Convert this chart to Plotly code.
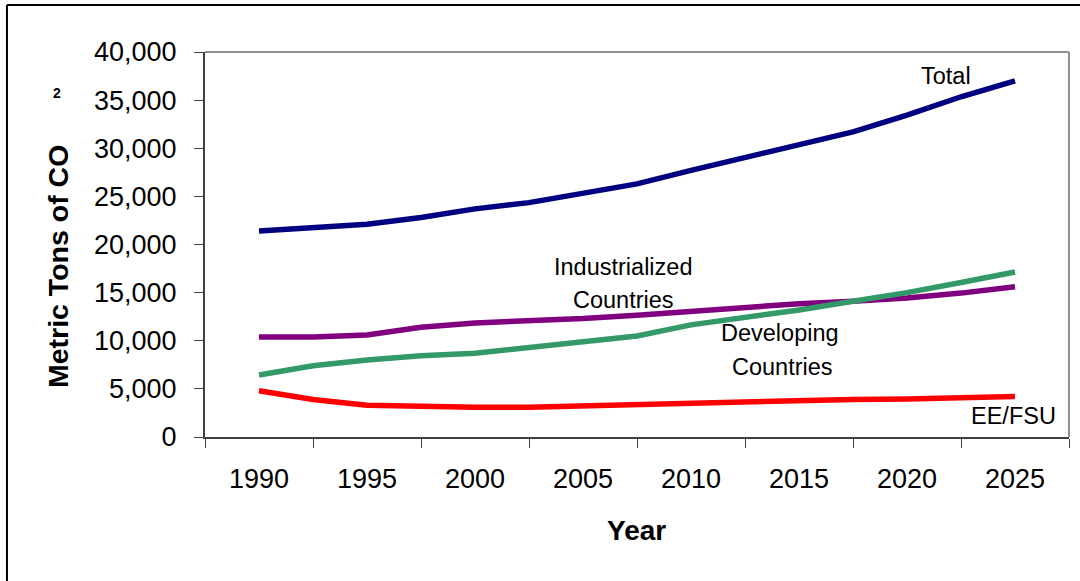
import plotly.graph_objects as go

years = [1990, 1992.5, 1995, 1997.5, 2000, 2002.5, 2005, 2007.5, 2010,
         2012.5, 2015, 2017.5, 2020, 2022.5, 2025]
total = [21400, 21700, 22100, 22800, 23700, 24350, 25300, 26300, 27700,
         29000, 30400, 31700, 33450, 35350, 37000]
industrialized = [10400, 10400, 10600, 11400, 11850, 12050, 12300, 12650, 13050,
                  13450, 13850, 14100, 14450, 14950, 15600]
developing = [6450, 7400, 8000, 8450, 8700, 9300, 9850, 10500, 11650,
              12400, 13200, 14100, 15000, 16050, 17150]
ee_fsu = [4800, 3900, 3300, 3150, 3100, 3100, 3250, 3400, 3550,
          3700, 3800, 3900, 3950, 4050, 4200]

tick_labels = [1990, 1995, 2000, 2005, 2010, 2015, 2020, 2025]
tick_marks = [1987.5, 1992.5, 1997.5, 2002.5, 2007.5, 2012.5, 2017.5, 2022.5, 2027.5]
y_ticks = [0, 5000, 10000, 15000, 20000, 25000, 30000, 35000, 40000]

series = [
    ("Total", total, "#000080"),
    ("Industrialized Countries", industrialized, "#800080"),
    ("Developing Countries", developing, "#339966"),
    ("EE/FSU", ee_fsu, "#FF0000"),
]

FONT = "Liberation Sans, Arial, sans-serif"

fig = go.Figure()
for name, vals, color in series:
    fig.add_trace(go.Scatter(x=years, y=vals, mode="lines", name=name,
                             line=dict(color=color, width=5.5)))

fig.update_layout(
    width=1080, height=581,
    margin=dict(l=205, r=11, t=52, b=144),
    paper_bgcolor="white", plot_bgcolor="white",
    showlegend=False,
    font=dict(family=FONT, color="black"),
)

fig.update_xaxes(
    range=[1987.5, 2027.5],
    tickvals=tick_labels,
    ticktext=[str(t) for t in tick_labels],
    ticks="outside", ticklen=0,
    tickfont=dict(size=27, family=FONT),
    ticklabelstandoff=17,
    showgrid=False, zeroline=False,
    showline=True, linecolor="#404040", linewidth=2,
    minor=dict(tickvals=tick_marks, ticks="outside", ticklen=9,
               tickcolor="#404040", tickwidth=1, showgrid=False),
)
fig.update_yaxes(
    range=[0, 40000],
    tickvals=y_ticks,
    tickformat=",",
    ticks="outside", ticklen=9, tickcolor="#404040", tickwidth=1,
    tickfont=dict(size=27, family=FONT),
    ticklabelstandoff=12,
    showgrid=False, zeroline=False,
    showline=True, linecolor="#404040", linewidth=2,
)

# plot frame (top / right in gray)
fig.add_shape(type="line", xref="paper", yref="paper", x0=0, x1=1, y0=1, y1=1,
              line=dict(color="#909090", width=2))
fig.add_shape(type="line", xref="paper", yref="paper", x0=1, x1=1, y0=0, y1=1,
              line=dict(color="#909090", width=2))
# outer chart border (left / top)
fig.add_shape(type="line", xref="paper", yref="paper", x0=-0.2292, x1=-0.2292,
              y0=-0.374, y1=1.1221, line=dict(color="black", width=2))
fig.add_shape(type="line", xref="paper", yref="paper", x0=-0.2292, x1=1.0127,
              y0=1.1221, y1=1.1221, line=dict(color="black", width=2))

ann_font = dict(size=23.5, family=FONT, color="black")
labels = [
    ("Total", 946, 76),
    ("Industrialized", 623, 267),
    ("Countries", 623, 300),
    ("Developing", 780, 333),
    ("Countries", 782, 367),
    ("EE/FSU", 1013, 416),
]
for text, px, py in labels:
    fig.add_annotation(text=text, xref="paper", yref="paper",
                       x=(px - 205) / 864, y=(437 - py) / 385,
                       xanchor="center", yanchor="middle", showarrow=False,
                       font=ann_font)

fig.add_annotation(text="<b>Year</b>", xref="paper", yref="paper",
                   x=(636 - 205) / 864, y=(437 - 530) / 385,
                   xanchor="center", yanchor="middle", showarrow=False,
                   font=dict(size=28, family=FONT, color="black"))
fig.add_annotation(text="<b>Metric Tons of CO</b>", xref="paper", yref="paper",
                   x=(58 - 205) / 864, y=(437 - 267) / 385, textangle=-90,
                   xanchor="center", yanchor="middle", showarrow=False,
                   font=dict(size=28.5, family=FONT, color="black"))
fig.add_annotation(text="<b>2</b>", xref="paper", yref="paper",
                   x=(57 - 205) / 864, y=(437 - 93) / 385,
                   xanchor="center", yanchor="middle", showarrow=False,
                   font=dict(size=14, family=FONT, color="black"))

fig.write_html("out.html", config={"displayModeBar": False},
               post_script=("document.body.style.margin='0';"
                            "document.body.style.padding='0';"
                            "document.body.style.overflow='hidden';"))
